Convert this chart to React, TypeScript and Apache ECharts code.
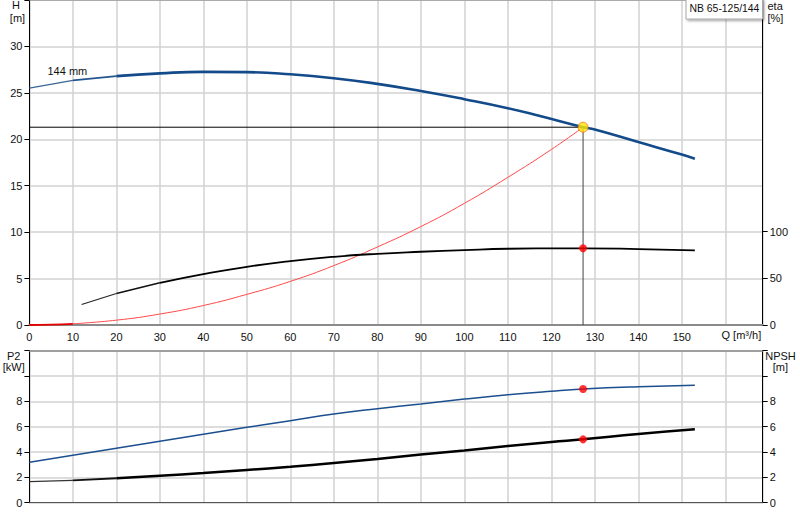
import React, { useEffect, useRef } from "react";
import * as echarts from "echarts";

// ---- data ----
const qMax = 168.6;
const xTickLabels = [0, 10, 20, 30, 40, 50, 60, 70, 80, 90, 100, 110, 120, 130, 140, 150];

const headQ = [0, 10, 20, 30, 40, 50, 60, 70, 80, 90, 100, 110, 117.4, 127.3, 130, 140, 150, 153];
const headH = [25.5, 26.35, 26.8, 27.1, 27.26, 27.23, 27.0, 26.58, 25.97, 25.2, 24.32, 23.35, 22.5, 21.3, 21.05, 19.7, 18.35, 17.9];

const sysQ = [0, 5, 10, 20, 30, 40, 50, 60, 70, 80, 90, 100, 110, 120, 127.3];
const sysH = [0, 0.03, 0.13, 0.52, 1.18, 2.1, 3.3, 4.7, 6.4, 8.4, 10.6, 13.1, 15.9, 18.9, 21.3];

const etaQ = [12, 20, 30, 40, 50, 60, 70, 80, 90, 100, 110, 120, 127.3, 140, 153];
const etaV = [21.9, 33.8, 45.2, 54.5, 62.4, 68.5, 73.1, 76.3, 78.5, 80.3, 81.7, 82.1, 82.2, 81.4, 80.0];

const lowQ = [0, 10, 20, 30, 40, 50, 60, 70, 80, 90, 100, 110, 120, 127.3, 140, 153];
const p2V = [3.19, 3.74, 4.29, 4.85, 5.4, 5.95, 6.47, 7.0, 7.42, 7.8, 8.18, 8.52, 8.8, 8.97, 9.15, 9.27];
const npshV = [1.66, 1.77, 1.93, 2.13, 2.34, 2.58, 2.84, 3.13, 3.45, 3.8, 4.13, 4.47, 4.79, 5.0, 5.42, 5.79];

const dutyQ = 127.3;
const dutyH = 21.3;
const dutyEta = 82.2;
const dutyP2 = 8.97;
const dutyNpsh = 5.0;

const pumpName = "NB 65-125/144";
const curveLabel = "144 mm";

const FONT = "Liberation Sans, Arial, sans-serif";
const TXT = "#111";
const GRIDC = "#d2d2d2";

const pairs = (xs: number[], ys: number[]) => xs.map((x, i) => [x, ys[i]]);

export default function App() {
  const ref = useRef<HTMLDivElement>(null);
  useEffect(() => {
    document.body.style.margin = "0";
    if (!ref.current) return;
    const chart = echarts.init(ref.current, undefined, { renderer: "svg" });

    const left = 29.4;
    const right = 37.3;
    const labelStyle = { fontSize: 11, fontFamily: FONT, color: TXT };

    const headPts = pairs(headQ, headH);
    const etaPts = pairs(etaQ, etaV);
    const npshPts = pairs(lowQ, npshV);
    const sysPts = pairs(sysQ, sysH);

    const line = (xi: number, yi: number, data: any[], color: string, width: number, z = 4, smooth: any = true) => ({
      type: "line", xAxisIndex: xi, yAxisIndex: yi, symbol: "none", smooth, z, data,
      lineStyle: { color, width },
    });

    const option: any = {
      animation: false,
      grid: [
        { left, right, top: 0, height: 325 },
        { left, right, top: 231.7, height: 93.3 },
        { left, right, top: 350.7, height: 152 },
      ],
      xAxis: [
        {
          gridIndex: 0, type: "value", min: 0, max: qMax, interval: 10,
          axisLine: { onZero: false, lineStyle: { color: "#8a8a8a", width: 2 } },
          axisTick: { show: false },
          axisLabel: {
            ...labelStyle, margin: 6,
            formatter: (v: number) => (xTickLabels.indexOf(v) >= 0 ? String(v) : ""),
          },
          splitLine: { show: true, lineStyle: { color: GRIDC, width: 1.5 } },
        },
        { gridIndex: 1, type: "value", min: 0, max: qMax, show: false },
        {
          gridIndex: 2, type: "value", min: 0, max: qMax, interval: 10,
          axisLine: { onZero: false, lineStyle: { color: "#555", width: 1.2 } },
          axisTick: { show: false },
          axisLabel: { show: false },
          splitLine: { show: true, lineStyle: { color: GRIDC, width: 1.5 } },
        },
        {
          gridIndex: 2, type: "value", min: 0, max: qMax, position: "top",
          axisLine: { onZero: false, lineStyle: { color: "#8a8a8a", width: 1.5 } },
          axisTick: { show: false }, axisLabel: { show: false }, splitLine: { show: false },
        },
        {
          gridIndex: 0, type: "value", min: 0, max: qMax, position: "top",
          axisLine: { onZero: false, lineStyle: { color: "#9a9a9a", width: 1.5 } },
          axisTick: { show: false }, axisLabel: { show: false }, splitLine: { show: false },
        },
      ],
      yAxis: [
        {
          gridIndex: 0, type: "value", min: 0, max: 35, interval: 5, position: "left",
          axisLine: { show: true, onZero: false, lineStyle: { color: "#000", width: 1 } },
          axisTick: { show: true, length: 5, lineStyle: { color: "#000" } },
          axisLabel: { ...labelStyle, margin: 7, formatter: (v: number) => (v <= 30 ? String(v) : "") },
          splitLine: { show: true, lineStyle: { color: GRIDC, width: 1.5 } },
        },
        {
          gridIndex: 0, type: "value", min: 0, max: 35, position: "right",
          axisLine: { show: true, onZero: false, lineStyle: { color: "#000", width: 1 } },
          axisTick: { show: false }, axisLabel: { show: false }, splitLine: { show: false },
        },
        {
          gridIndex: 1, type: "value", min: 0, max: 100, interval: 50, position: "right",
          axisLine: { show: true, onZero: false, lineStyle: { color: "#000", width: 1 } },
          axisTick: { show: true, length: 5, lineStyle: { color: "#000" } },
          axisLabel: { ...labelStyle, margin: 7 },
          splitLine: { show: false },
        },
        {
          gridIndex: 2, type: "value", min: 0, max: 12, interval: 2, position: "left",
          axisLine: { show: true, onZero: false, lineStyle: { color: "#000", width: 1 } },
          axisTick: { show: true, length: 5, lineStyle: { color: "#000" } },
          axisLabel: { ...labelStyle, margin: 7, formatter: (v: number) => (v <= 8 ? String(v) : "") },
          splitLine: { show: true, lineStyle: { color: GRIDC, width: 1.5 } },
        },
        {
          gridIndex: 2, type: "value", min: 0, max: 12, interval: 2, position: "right",
          axisLine: { show: true, onZero: false, lineStyle: { color: "#000", width: 1 } },
          axisTick: { show: true, length: 5, lineStyle: { color: "#000" } },
          axisLabel: { ...labelStyle, margin: 7, formatter: (v: number) => (v <= 8 ? String(v) : "") },
          splitLine: { show: false },
        },
      ],
      series: [
        // duty lines
        line(0, 0, [[0, dutyH], [dutyQ, dutyH]], "#000", 1, 2, false),
        line(0, 0, [[dutyQ, dutyH], [dutyQ, 0]], "#444", 1, 2, false),
        // system curve
        line(0, 0, sysPts.slice(0, 3), "#e60000", 1.8, 3),
        line(0, 0, sysPts.slice(2), "#ff4a4a", 1, 3),
        // head curve (thin start, thick rest)
        line(0, 0, headPts.slice(0, 2), "#3a6598", 1.2),
        line(0, 0, headPts.slice(1, 3), "#24558f", 1.9),
        line(0, 0, headPts.slice(2), "#124a8a", 2.6),
        // efficiency
        line(1, 2, etaPts.slice(0, 2), "#222", 1.1),
        line(1, 2, etaPts.slice(1, 3), "#111", 1.5),
        line(1, 2, etaPts.slice(2), "#000", 1.8),
        // P2
        line(2, 3, pairs(lowQ, p2V), "#1c4f8f", 1.5),
        // NPSH
        line(2, 4, npshPts.slice(0, 2), "#333", 1.2),
        line(2, 4, npshPts.slice(1, 3), "#111", 1.8),
        line(2, 4, npshPts.slice(2), "#000", 2.5),
        // duty markers
        {
          type: "scatter", xAxisIndex: 0, yAxisIndex: 0, z: 6, symbolSize: 10,
          data: [[dutyQ, dutyH]],
          itemStyle: { color: "#ffe600", borderColor: "#f07020", borderWidth: 1 },
        },
        {
          type: "scatter", xAxisIndex: 1, yAxisIndex: 2, z: 6, symbolSize: 8,
          data: [[dutyQ, dutyEta]],
          itemStyle: { color: "#ff0000" },
        },
        {
          type: "scatter", xAxisIndex: 2, yAxisIndex: 3, z: 6, symbolSize: 8,
          data: [[dutyQ, dutyP2]],
          itemStyle: { color: "#ff0000" },
        },
        {
          type: "scatter", xAxisIndex: 2, yAxisIndex: 4, z: 6, symbolSize: 8,
          data: [[dutyQ, dutyNpsh]],
          itemStyle: { color: "#ff0000" },
        },
      ],
      graphic: [
        { type: "text", z: 10, style: { text: "H", x: 16, y: 5, textAlign: "center", textVerticalAlign: "middle", font: `11px ${FONT}`, fill: TXT } },
        { type: "text", z: 10, style: { text: "[m]", x: 17.5, y: 17.5, textAlign: "center", textVerticalAlign: "middle", font: `11px ${FONT}`, fill: TXT } },
        { type: "text", z: 10, style: { text: "eta", x: 767.5, y: 5.5, textAlign: "left", textVerticalAlign: "middle", font: `11px ${FONT}`, fill: TXT } },
        { type: "text", z: 10, style: { text: "[%]", x: 767.5, y: 17.5, textAlign: "left", textVerticalAlign: "middle", font: `11px ${FONT}`, fill: TXT } },
        { type: "text", z: 10, style: { text: "P2", x: 13.7, y: 355.5, textAlign: "center", textVerticalAlign: "middle", font: `11px ${FONT}`, fill: TXT } },
        { type: "text", z: 10, style: { text: "[kW]", x: 13.8, y: 367, textAlign: "center", textVerticalAlign: "middle", font: `11px ${FONT}`, fill: TXT } },
        { type: "text", z: 10, style: { text: "NPSH", x: 780.5, y: 355.5, textAlign: "center", textVerticalAlign: "middle", font: `11px ${FONT}`, fill: TXT } },
        { type: "text", z: 10, style: { text: "[m]", x: 780.3, y: 367, textAlign: "center", textVerticalAlign: "middle", font: `11px ${FONT}`, fill: TXT } },
        { type: "text", z: 10, style: { text: "Q [m³/h]", x: 721.5, y: 335, textAlign: "left", textVerticalAlign: "middle", font: `11px ${FONT}`, fill: TXT } },
        { type: "text", z: 10, style: { text: curveLabel, x: 47.5, y: 71, textAlign: "left", textVerticalAlign: "middle", font: `11px ${FONT}`, fill: TXT } },
        {
          type: "rect", z: 9,
          shape: { x: 686, y: -1, width: 76.5, height: 20 },
          style: { fill: "#fff", stroke: "#a8a8a8", lineWidth: 1, shadowBlur: 2, shadowOffsetX: 1.5, shadowOffsetY: 1.5, shadowColor: "rgba(0,0,0,0.35)" },
        },
        { type: "text", z: 10, style: { text: pumpName, x: 689.5, y: 8.5, textAlign: "left", textVerticalAlign: "middle", font: `10.4px ${FONT}`, fill: TXT } },
      ],
    };
    chart.setOption(option);
    return () => chart.dispose();
  }, []);
  return <div ref={ref} style={{ width: 800, height: 520 }} />;
}
